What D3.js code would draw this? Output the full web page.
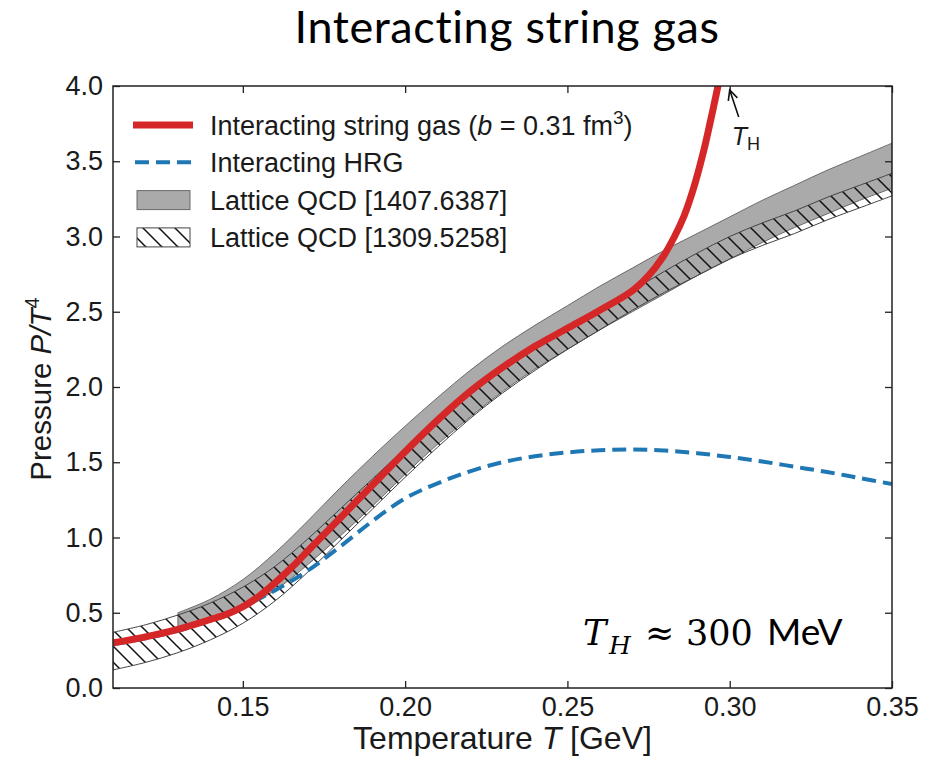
<!DOCTYPE html>
<html>
<head>
<meta charset="utf-8">
<script src="https://cdn.jsdelivr.net/npm/d3@7"></script>
<style>
  body { margin: 0; background: #fff; }
  svg { display: block; }
  text { font-family: "Liberation Sans", Arial, sans-serif; fill: #1a1a1a; }
</style>
</head>
<body>
<div id="chart"></div>
<script>

// Interacting string gas, b = 0.31 fm^3 (diverges at the Hagedorn temperature)
const stringT = [0.110, 0.120, 0.130, 0.140, 0.145, 0.150, 0.155, 0.160, 0.165, 0.170, 0.180, 0.190, 0.200, 0.210, 0.220, 0.230, 0.240, 0.250, 0.260, 0.270, 0.275, 0.279, 0.283, 0.286, 0.289, 0.292, 0.294, 0.296, 0.2975]
const stringP = [0.30, 0.34, 0.39, 0.455, 0.49, 0.54, 0.61, 0.70, 0.80, 0.91, 1.13, 1.35, 1.57, 1.78, 1.97, 2.13, 2.27, 2.39, 2.51, 2.64, 2.74, 2.85, 3.00, 3.14, 3.33, 3.57, 3.76, 3.96, 4.12]

// Interacting HRG
const hrgT = [0.11, 0.12, 0.13, 0.14, 0.15, 0.16, 0.17, 0.18, 0.19, 0.20, 0.21, 0.22, 0.23, 0.24, 0.25, 0.26, 0.27, 0.28, 0.29, 0.30, 0.31, 0.32, 0.33, 0.34, 0.35]
const hrgP = [0.29, 0.33, 0.38, 0.45, 0.54, 0.65, 0.78, 0.94, 1.11, 1.26, 1.36, 1.44, 1.50, 1.54, 1.565, 1.58, 1.585, 1.578, 1.56, 1.535, 1.505, 1.47, 1.435, 1.395, 1.355]

// Lattice QCD [1407.6387], error band
const hotT  = [0.13, 0.14, 0.15, 0.16, 0.17, 0.18, 0.19, 0.20, 0.21, 0.22, 0.23, 0.24, 0.25, 0.26, 0.27, 0.28, 0.29, 0.30, 0.31, 0.32, 0.33, 0.34, 0.35]
const hotLo = [0.40, 0.45, 0.53, 0.65, 0.82, 1.01, 1.21, 1.42, 1.62, 1.80, 1.97, 2.12, 2.25, 2.38, 2.50, 2.62, 2.74, 2.85, 2.96, 3.06, 3.15, 3.24, 3.32]
const hotHi = [0.50, 0.59, 0.72, 0.90, 1.11, 1.33, 1.54, 1.74, 1.93, 2.11, 2.27, 2.41, 2.54, 2.67, 2.79, 2.91, 3.02, 3.13, 3.24, 3.34, 3.44, 3.53, 3.62]

// Lattice QCD [1309.5258], error band
const wbT  = [0.11, 0.12, 0.13, 0.14, 0.15, 0.16, 0.17, 0.18, 0.19, 0.20, 0.21, 0.22, 0.23, 0.24, 0.25, 0.26, 0.27, 0.28, 0.29, 0.30, 0.31, 0.32, 0.33, 0.34, 0.35]
const wbLo = [0.12, 0.17, 0.235, 0.32, 0.43, 0.58, 0.77, 0.98, 1.19, 1.40, 1.60, 1.79, 1.96, 2.11, 2.25, 2.38, 2.51, 2.63, 2.74, 2.85, 2.94, 3.02, 3.11, 3.19, 3.27]
const wbHi = [0.37, 0.42, 0.485, 0.565, 0.67, 0.81, 0.99, 1.19, 1.39, 1.59, 1.78, 1.95, 2.11, 2.25, 2.38, 2.51, 2.64, 2.77, 2.89, 3.00, 3.09, 3.17, 3.26, 3.34, 3.42]

// Hagedorn temperature [GeV]
const TH = 0.30

const xTicks = [0.15, 0.20, 0.25, 0.30, 0.35]
const yTicks = [0.0, 0.5, 1.0, 1.5, 2.0, 2.5, 3.0, 3.5, 4.0]

const legendLabels = ['Interacting string gas', 'Interacting HRG', 'Lattice QCD [1407.6387]', 'Lattice QCD [1309.5258]']

const red = '#d62728', blue = '#1f77b4', bandGrey = '#aaaaaa'

// margin convention
var margin = {top: 86, right: 38, bottom: 72, left: 113},
    outerWidth = 930,
    outerHeight = 760,
    width = outerWidth - margin.left - margin.right,
    height = outerHeight - margin.top - margin.bottom

var x = d3.scaleLinear().domain([0.11, 0.35]).range([0, width])
var y = d3.scaleLinear().domain([0, 4]).range([height, 0])

var svg = d3.select('#chart').append('svg')
    .attr('width', outerWidth)
    .attr('height', outerHeight)

var defs = svg.append('defs')

defs.append('clipPath').attr('id', 'plot-clip')
  .append('rect').attr('width', width).attr('height', height)

// backslash hatch, 45 degrees
defs.append('pattern')
    .attr('id', 'hatch')
    .attr('patternUnits', 'userSpaceOnUse')
    .attr('width', 16).attr('height', 16)
  .append('path')
    .attr('d', 'M-2,-2L18,18M-2,14L2,18M14,-2L18,2')
    .attr('stroke', '#111')
    .attr('stroke-width', 1.5)

// title
svg.append('text')
    .attr('x', 507).attr('y', 43)
    .attr('text-anchor', 'middle')
    .style('font-family', 'Lato, "Open Sans", sans-serif')
    .style('font-size', '45px')
    .style('letter-spacing', '0.6px')
    .style('font-variant-ligatures', 'none')
    .style('fill', '#000')
    .text('Interacting string gas')

var g = svg.append('g')
    .attr('transform', 'translate(' + margin.left + ',' + margin.top + ')')

var plot = g.append('g').attr('clip-path', 'url(#plot-clip)')

// bands
var band = d3.area()
    .x(d => x(d.t))
    .y0(d => y(d.lo))
    .y1(d => y(d.hi))
    .curve(d3.curveCatmullRom.alpha(0.5))

var hotRows = hotT.map((t, i) => ({t: t, lo: hotLo[i], hi: hotHi[i]}))
var wbRows = wbT.map((t, i) => ({t: t, lo: wbLo[i], hi: wbHi[i]}))

plot.append('path')
    .datum(hotRows)
    .attr('d', band)
    .attr('fill', bandGrey)
    .attr('stroke', '#6a6a6a')
    .attr('stroke-width', 1)

plot.append('path')
    .datum(wbRows)
    .attr('d', band)
    .attr('fill', 'url(#hatch)')
    .attr('stroke', '#444')
    .attr('stroke-width', 1)

// curves
var line = d3.line()
    .x(d => x(d[0]))
    .y(d => y(d[1]))
    .curve(d3.curveCatmullRom.alpha(0.5))

plot.append('path')
    .datum(d3.zip(hrgT, hrgP))
    .attr('d', line)
    .attr('fill', 'none')
    .attr('stroke', blue)
    .attr('stroke-width', 4)
    .attr('stroke-dasharray', '14,7')

plot.append('path')
    .datum(d3.zip(stringT, stringP))
    .attr('d', line)
    .attr('fill', 'none')
    .attr('stroke', red)
    .attr('stroke-width', 7)

// axes, ticks pointing inward on all four sides
function styleAxis(sel) {
  sel.select('.domain').remove()
  sel.selectAll('.tick line').attr('stroke', '#222').attr('stroke-width', 1.3)
  sel.selectAll('.tick text').style('font-size', '27px').style('fill', '#1a1a1a')
}

g.append('g')
    .attr('transform', 'translate(0,' + height + ')')
    .call(d3.axisBottom(x).tickValues(xTicks).tickSize(-7).tickPadding(9).tickFormat(d3.format('.2f')))
    .call(styleAxis)

g.append('g')
    .call(d3.axisLeft(y).tickValues(yTicks).tickSize(-7).tickPadding(10).tickFormat(d3.format('.1f')))
    .call(styleAxis)

g.append('g')
    .call(d3.axisTop(x).tickValues(xTicks).tickSize(-7).tickFormat(''))
    .call(styleAxis)

g.append('g')
    .attr('transform', 'translate(' + width + ',0)')
    .call(d3.axisRight(y).tickValues(yTicks).tickSize(-7).tickFormat(''))
    .call(styleAxis)

// frame
g.append('rect')
    .attr('width', width).attr('height', height)
    .attr('fill', 'none')
    .attr('stroke', '#222')
    .attr('stroke-width', 1.5)

// axis labels
var xl = g.append('text')
    .attr('x', width / 2).attr('y', height + 61)
    .attr('text-anchor', 'middle')
    .style('font-size', '32px')
xl.append('tspan').text('Temperature ')
xl.append('tspan').style('font-style', 'italic').text('T')
xl.append('tspan').text(' [GeV]')

var yl = g.append('text')
    .attr('transform', 'translate(' + (-62) + ',' + (height / 2 + 2) + ') rotate(-90)')
    .attr('text-anchor', 'middle')
    .style('font-size', '29.5px')
yl.append('tspan').text('Pressure ')
yl.append('tspan').style('font-style', 'italic').text('P/T')
yl.append('tspan').attr('dy', -12).style('font-size', '20px').text('4')

// legend
var rowY = i => 39 + i * 37.3
var legend = g.append('g')

legend.append('line')
    .attr('x1', 20).attr('x2', 80)
    .attr('y1', rowY(0)).attr('y2', rowY(0))
    .attr('stroke', red).attr('stroke-width', 7)

legend.append('line')
    .attr('x1', 22).attr('x2', 78)
    .attr('y1', rowY(1)).attr('y2', rowY(1))
    .attr('stroke', blue).attr('stroke-width', 4)
    .attr('stroke-dasharray', '14,7')

legend.append('rect')
    .attr('x', 24).attr('y', rowY(2) - 9)
    .attr('width', 53).attr('height', 19)
    .attr('fill', bandGrey).attr('stroke', '#6a6a6a')

legend.append('rect')
    .attr('x', 24).attr('y', rowY(3) - 9)
    .attr('width', 53).attr('height', 19)
    .attr('fill', 'url(#hatch)').attr('stroke', '#444')

legend.selectAll('text.label')
    .data(legendLabels)
  .enter().append('text')
    .attr('class', 'label')
    .attr('x', 97)
    .attr('y', (d, i) => rowY(i) + 10)
    .style('font-size', '27px')
    .each(function(d, i) {
      var t = d3.select(this)
      t.append('tspan').text(d)
      if (i == 0) {
        t.append('tspan').text(' (')
        t.append('tspan').style('font-style', 'italic').text('b')
        t.append('tspan').text(' = 0.31 fm')
        t.append('tspan').attr('dy', -11).style('font-size', '19px').text('3')
        t.append('tspan').attr('dy', 11).text(')')
      }
    })

// arrow pointing at T_H where the string gas pressure blows up
var tipX = x(TH), tipY = y(4.0) + 4
var tailX = tipX + 9, tailY = tipY + 27
var ang = Math.atan2(tailY - tipY, tailX - tipX)
var head = 11, spread = 0.45
g.append('path')
    .attr('d', 'M' + tailX + ',' + tailY + 'L' + tipX + ',' + tipY +
      'M' + (tipX + head * Math.cos(ang - spread)) + ',' + (tipY + head * Math.sin(ang - spread)) +
      'L' + tipX + ',' + tipY +
      'L' + (tipX + head * Math.cos(ang + spread)) + ',' + (tipY + head * Math.sin(ang + spread)))
    .attr('fill', 'none')
    .attr('stroke', '#111')
    .attr('stroke-width', 1.6)

var thl = g.append('text')
    .attr('x', tipX + 2).attr('y', tailY + 28)
    .style('font-size', '25px')
thl.append('tspan').style('font-style', 'italic').text('T')
thl.append('tspan').attr('dy', 5).style('font-size', '18px').text('H')

// T_H value
var nx = x(0.2548), ny = y(0.285)
var note = g.append('text')
    .attr('x', nx).attr('y', ny)
    .style('font-family', '"DejaVu Serif", "Liberation Serif", serif')
    .style('font-size', '35px')
    .style('fill', '#000')
note.append('tspan').style('font-style', 'italic').text('T')
note.append('tspan').attr('x', nx + 26).attr('dy', 9).style('font-style', 'italic').style('font-size', '25px').text('H')
note.append('tspan').attr('x', nx + 62).attr('dy', -9).text('\u2248')
note.append('tspan').attr('x', nx + 103).text('300')
note.append('tspan').attr('x', nx + 184)
    .style('font-family', 'Lato, "Open Sans", sans-serif')
    .style('font-size', '37px')
    .text('MeV')

</script>
</body>
</html>
